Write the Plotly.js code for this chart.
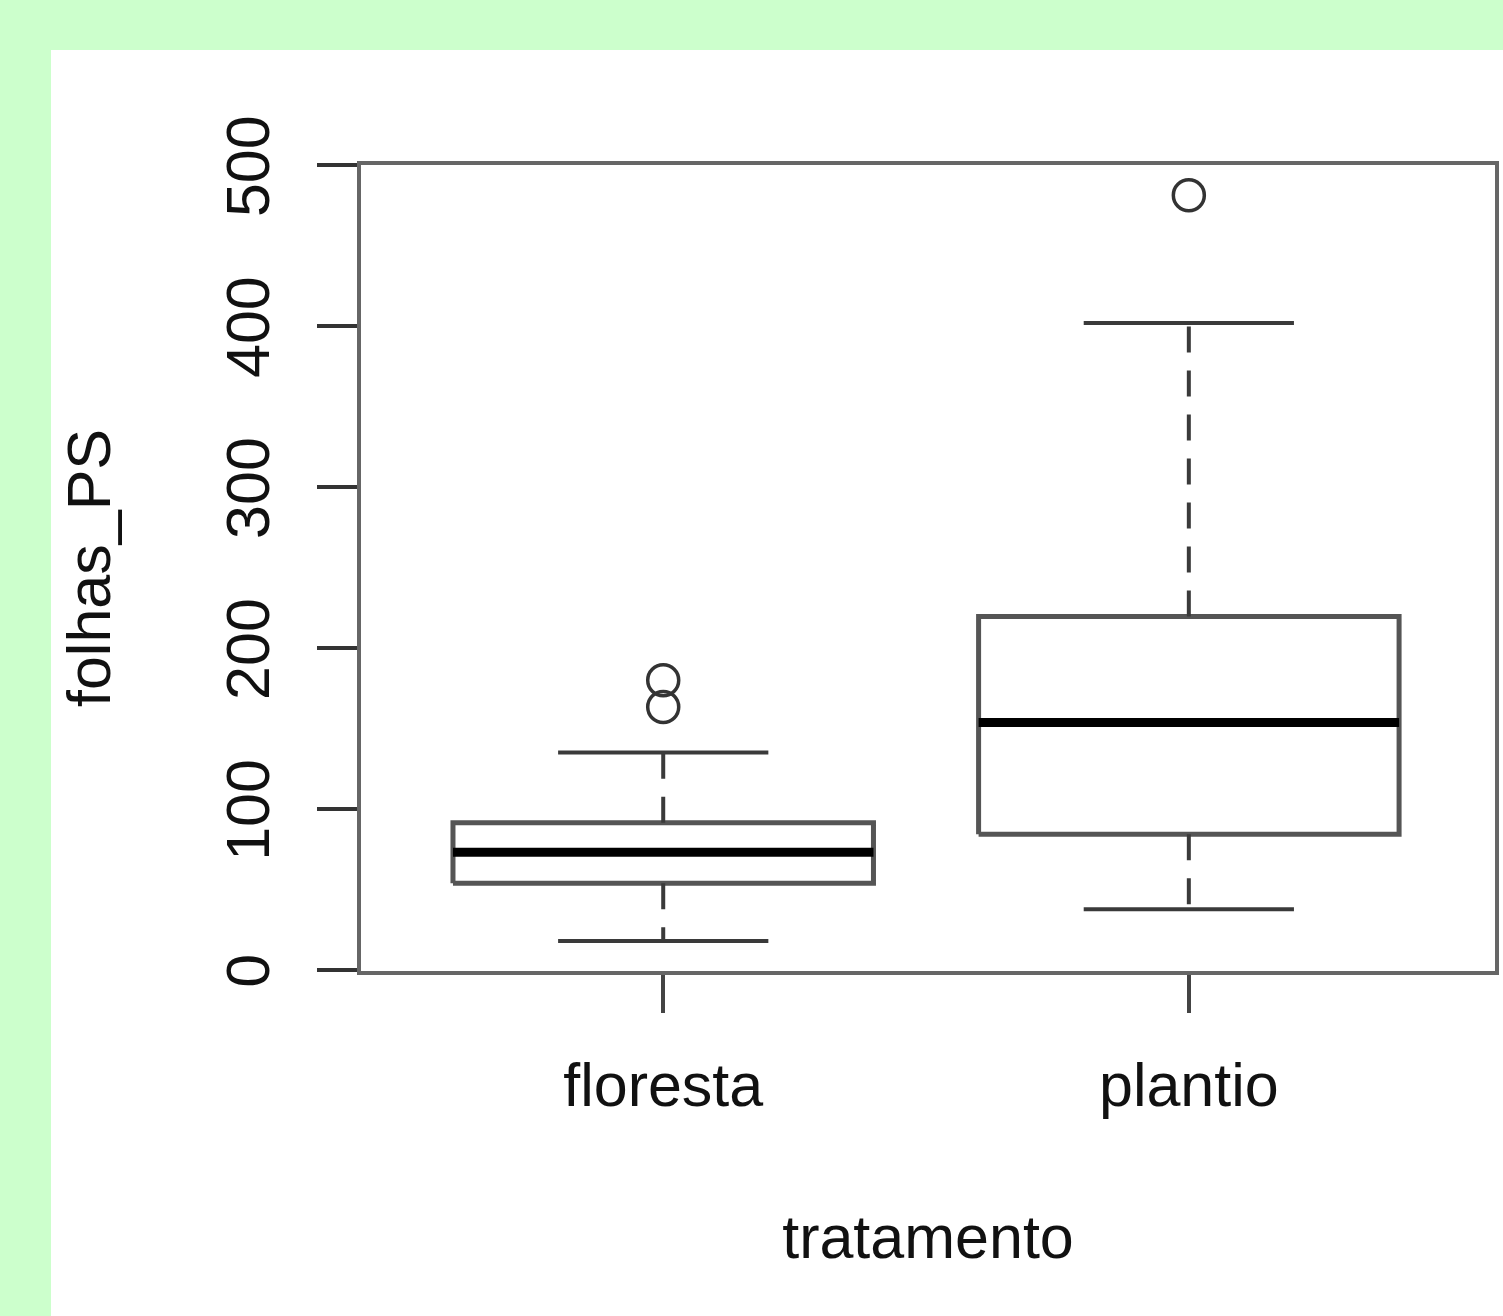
<!DOCTYPE html>
<html>
<head>
<meta charset="utf-8">
<script src="https://cdn.plot.ly/plotly-3.0.1.min.js"></script>
<style>
  html, body { margin: 0; padding: 0; background: #CCFFCC; width: 1503px; height: 1316px; overflow: hidden; }
  #chart { position: absolute; left: 51px; top: 50px; width: 1452px; height: 1266px; background: #ffffff; }
</style>
</head>
<body>
<div id="chart"></div>
<script>
// ---- data ----
const categories = ['floresta', 'plantio'];
const lowerWhisker = [18.0, 37.8];
const q1 = [54.0, 84.4];
const median = [73.2, 153.8];
const q3 = [91.5, 219.6];
const upperWhisker = [135.2, 402.0];
const outliersFloresta = [180.1, 163.4];
const outliersPlantio = [481.4];
const yTickVals = [0, 100, 200, 300, 400, 500];
const yTickText = ['0', '100', '200', '300', '400', '500'];

// ---- styles ----
const boxHalf = 0.4, capHalf = 0.2;
const boxColor = '#555555', medColor = '#000000', whiskColor = '#3a3a3a';
const font = 'Liberation Sans, Arial, sans-serif';

const traces = [];
categories.forEach((c, i) => {
  const p = i + 1;
  traces.push({
    x: [p - boxHalf, p + boxHalf, p + boxHalf, p - boxHalf, p - boxHalf],
    y: [q1[i], q1[i], q3[i], q3[i], q1[i]],
    mode: 'lines', line: { color: boxColor, width: 5 }, hoverinfo: 'skip', showlegend: false
  });
  traces.push({
    x: [p - boxHalf, p + boxHalf], y: [median[i], median[i]],
    mode: 'lines', line: { color: medColor, width: 9 }, showlegend: false, name: c
  });
  traces.push({
    x: [p, p, null, p, p], y: [q3[i], upperWhisker[i], null, q1[i], lowerWhisker[i]],
    mode: 'lines', line: { color: whiskColor, width: 4, dash: '26px,18px' }, hoverinfo: 'skip', showlegend: false
  });
  traces.push({
    x: [p - capHalf, p + capHalf, null, p - capHalf, p + capHalf],
    y: [upperWhisker[i], upperWhisker[i], null, lowerWhisker[i], lowerWhisker[i]],
    mode: 'lines', line: { color: whiskColor, width: 4 }, hoverinfo: 'skip', showlegend: false
  });
});
const outliers = [outliersFloresta, outliersPlantio];
outliers.forEach((arr, i) => {
  traces.push({
    x: arr.map(() => i + 1), y: arr, mode: 'markers',
    marker: { symbol: 'circle-open', size: 31, color: '#333333', line: { width: 3.5, color: '#333333' } },
    showlegend: false, name: categories[i]
  });
});

const layout = {
  width: 1452, height: 1266,
  margin: { l: 310, r: 8, t: 115, b: 345 },
  paper_bgcolor: '#ffffff', plot_bgcolor: '#ffffff',
  showlegend: false,
  font: { family: font, size: 61, color: '#111111' },
  xaxis: {
    range: [0.425, 2.5825], tickvals: [1, 2], ticktext: categories,
    ticks: 'outside', ticklen: 38, tickwidth: 4, tickcolor: '#444444',
    showline: true, mirror: true, linecolor: '#666666', linewidth: 4,
    showgrid: false, zeroline: false, ticklabelstandoff: 20,
    tickfont: { family: font, size: 61, color: '#111111' },
    title: { text: 'tratamento', standoff: 98, font: { family: font, size: 61, color: '#111111' } }
  },
  yaxis: {
    range: [-0.6, 500.2], tickvals: yTickVals, ticktext: yTickText, tickangle: -90,
    ticks: 'outside', ticklen: 40, tickwidth: 4, tickcolor: '#333333',
    showline: true, mirror: true, linecolor: '#666666', linewidth: 4,
    showgrid: false, zeroline: false, ticklabelstandoff: 24, ticklabelshift: 10,
    tickfont: { family: font, size: 61, color: '#111111' },
    title: { text: 'folhas_PS', standoff: 84, font: { family: font, size: 61, color: '#111111' } }
  }
};

Plotly.newPlot('chart', traces, layout, { displayModeBar: false, staticPlot: true });
</script>
</body>
</html>
